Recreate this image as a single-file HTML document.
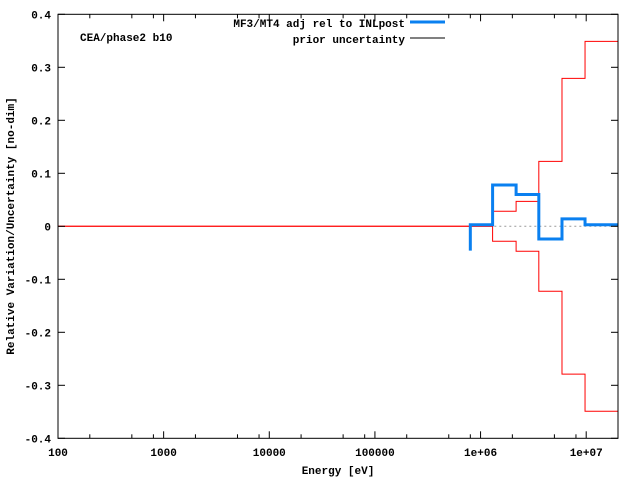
<!DOCTYPE html>
<html><head><meta charset="utf-8"><style>
body{margin:0;background:#fff}
svg text{font-family:"Liberation Mono","DejaVu Sans Mono",monospace;font-size:11px;font-weight:bold;fill:#000}
</style></head><body>
<svg id="chart" width="640" height="480" xmlns="http://www.w3.org/2000/svg">
<rect x="0" y="0" width="640" height="480" fill="#fff"/>
<g id="grid"></g>
<g id="marks"></g>
<rect x="58" y="14.3" width="560" height="424" fill="none" stroke="#000" stroke-width="1"/>
<g id="axes"></g>
<text x="338" y="474" text-anchor="middle">Energy [eV]</text>
<text transform="translate(14,226) rotate(-90)" text-anchor="middle">Relative Variation/Uncertainty [no-dim]</text>
<text x="80" y="41">CEA/phase2 b10</text>
<g>
<text x="405" y="27" text-anchor="end">MF3/MT4 adj rel to INLpost</text>
<line x1="410" y1="22" x2="445" y2="22" stroke="#0a80f0" stroke-width="3"/>
<text x="405" y="43" text-anchor="end">prior uncertainty</text>
<line x1="410" y1="38" x2="445" y2="38" stroke="#000" stroke-width="1"/>
</g>
</svg>
<script>
const xTicks=[100,1000,10000,100000,1e6,1e7];
const xTickLabels=["100","1000","10000","100000","1e+06","1e+07"];
const yTicks=[-0.4,-0.3,-0.2,-0.1,0,0.1,0.2,0.3,0.4];
const yTickLabels=["-0.4","-0.3","-0.2","-0.1","0","0.1","0.2","0.3","0.4"];
const priorEdges=[100,1.3e6,2.17e6,3.56e6,5.9e6,9.75e6,2e7];
const priorValues=[0,0.0283,0.047,0.1226,0.279,0.349];
const adjEdges=[8e5,1.3e6,2.17e6,3.56e6,5.9e6,9.75e6,2e7];
const adjValues=[0.003,0.078,0.06,-0.024,0.014,0.003];
const adjStart=-0.046;
const minorMult=[2,5,8];
const X0=58,X1=618,Y0=438.3,Y1=14.3,lmin=2,lmax=Math.log10(2e7);
const xs=v=>X0+(Math.log10(v)-lmin)/(lmax-lmin)*(X1-X0);
const ys=v=>Y0-(v+0.4)/0.8*(Y0-Y1);
const NS="http://www.w3.org/2000/svg";
function mk(t,a,p){const e=document.createElementNS(NS,t);for(const k in a)e.setAttribute(k,a[k]);p.appendChild(e);return e;}
const axes=document.getElementById('axes'),marks=document.getElementById('marks'),grid=document.getElementById('grid');
xTicks.forEach((v,i)=>{const x=xs(v);
 let t=mk('line',{x1:x,y1:Y0,x2:x,y2:Y0-7,stroke:'#000'},axes);
 
 t=mk('line',{x1:x,y1:Y1,x2:x,y2:Y1+7,stroke:'#000'},axes);
 
 minorMult.forEach(m=>{const xm=xs(v*m);if(xm<X1){
  let n=mk('line',{x1:xm,y1:Y0,x2:xm,y2:Y0-4,stroke:'#000'},axes);
  
  n=mk('line',{x1:xm,y1:Y1,x2:xm,y2:Y1+4,stroke:'#000'},axes);
  }});
 const l=mk('text',{x:x,y:456,'text-anchor':'middle'},axes);l.textContent=xTickLabels[i];
 
});
yTicks.forEach((v,i)=>{const y=ys(v);
 let t=mk('line',{x1:X0,y1:y,x2:X0+7,y2:y,stroke:'#000'},axes);
 
 t=mk('line',{x1:X1,y1:y,x2:X1-7,y2:y,stroke:'#000'},axes);
 
 const l=mk('text',{x:51,y:y+4,'text-anchor':'end'},axes);l.textContent=yTickLabels[i];
 
});
const zl=mk('line',{x1:xs(1.35e6),y1:ys(0),x2:X1,y2:ys(0),stroke:'#999','stroke-dasharray':'2,3'},grid);

function stepPath(edges,vals,sign,start){let d='';
 if(start!==undefined)d='M'+xs(edges[0])+','+ys(start)+' L'+xs(edges[0])+','+ys(sign*vals[0]);
 else d='M'+xs(edges[0])+','+ys(sign*vals[0]);
 for(let i=0;i<vals.length;i++){d+=' L'+xs(edges[i])+','+ys(sign*vals[i])+' L'+xs(edges[i+1])+','+ys(sign*vals[i]);}
 return d;}
let p=mk('path',{d:stepPath(priorEdges,priorValues,1),fill:'none',stroke:'#f00','stroke-width':1},marks);

p=mk('path',{d:stepPath(priorEdges,priorValues,-1),fill:'none',stroke:'#f00','stroke-width':1},marks);

p=mk('path',{d:stepPath(adjEdges,adjValues,1,adjStart),fill:'none',stroke:'#0a80f0','stroke-width':3},marks);

</script>
</body></html>
